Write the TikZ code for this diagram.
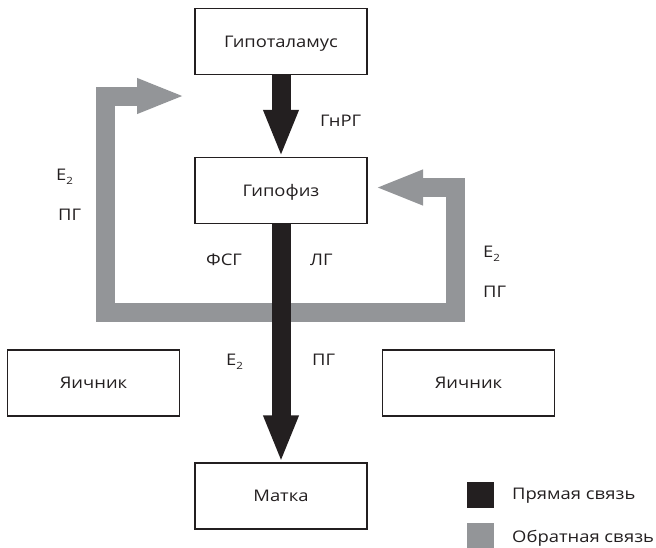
\documentclass[tikz,border=0pt]{standalone}
\usepackage{fontspec}
\setmainfont{Open Sans}[FakeStretch=1.15]
\usetikzlibrary{arrows.meta}
\definecolor{ink}{HTML}{231F20}
\definecolor{fbgray}{HTML}{939598}
\newcommand{\labelfont}{\fontsize{16}{19}\selectfont}
\newcommand{\estr}{E\raisebox{-4pt}{\fontsize{10}{10}\selectfont 2}}
\begin{document}
\begin{tikzpicture}[x=1pt,y=-1pt,
  organ/.style={draw=ink, line width=1.1pt, fill=white, minimum width=172pt,
                minimum height=66pt, text=ink, font=\labelfont,
                text height=11.5pt, text depth=0pt},
  lbl/.style={text=ink, font=\labelfont, inner sep=0pt, anchor=base west},
  direct/.style={draw=ink, line width=19pt, -{Triangle[width=32pt,length=47pt]}},
  feedback/.style={draw=fbgray, line width=19pt, line join=miter,
                   {Triangle[width=32pt,length=48pt]}-{Triangle[width=32pt,length=48pt]}},
  key/.style={minimum width=27pt, minimum height=26pt, inner sep=0pt},
  ]
  \useasboundingbox (0,0) rectangle (656,547);
  % ---- organs --------------------------------------------------------------
  \node[organ] (hyp)  at (281,41.5)  {Гипоталамус};
  \node[organ] (pit)  at (281,190.5) {Гипофиз};
  \node[organ] (ovL)  at (93.5,383)  {Яичник};
  \node[organ] (ovR)  at (468.5,383) {Яичник};
  \node[organ] (ut)   at (281,496)   {Матка};
  % ---- feedback loop (drawn first, direct arrows go over it) --------------
  \coordinate (fbL) at (185,96);
  \coordinate (fbR) at (375,187.5);
  \draw[feedback] (fbL) -- (105.5,96) -- (105.5,312.5) -- (455,312.5)
    -- (455,187.5) -- (fbR);
  % ---- direct links --------------------------------------------------------
  \draw[direct] (hyp.south) -- (pit.north);
  \draw[direct] (pit.south) -- (ut.north);
  % ---- hormone labels ------------------------------------------------------
  \node[lbl] (gnrg) at (320,126)   {ГнРГ};
  \node[lbl] (fsg)  at (206,265.5) {ФСГ};
  \node[lbl] (lg)   at (310,265.5) {ЛГ};
  \node[lbl] (e2a)  at (56,180.5)  {\estr};
  \node[lbl] (pga)  at (58,220.5)  {ПГ};
  \node[lbl] (e2b)  at (483,257.5) {\estr};
  \node[lbl] (pgb)  at (483,297.5) {ПГ};
  \node[lbl] (e2c)  at (226,365.5) {\estr};
  \node[lbl] (pgc)  at (312,365.5) {ПГ};
  % ---- legend --------------------------------------------------------------
  \node[key, fill=ink]    (keyA) at (480.5,495) {};
  \node[key, fill=fbgray] (keyB) at (480.5,536) {};
  \node[lbl, anchor=west] (keyAt) at (512,496) {Прямая связь};
  \node[lbl, anchor=west] (keyBt) at (512,538) {Обратная связь};
\end{tikzpicture}
\end{document}
